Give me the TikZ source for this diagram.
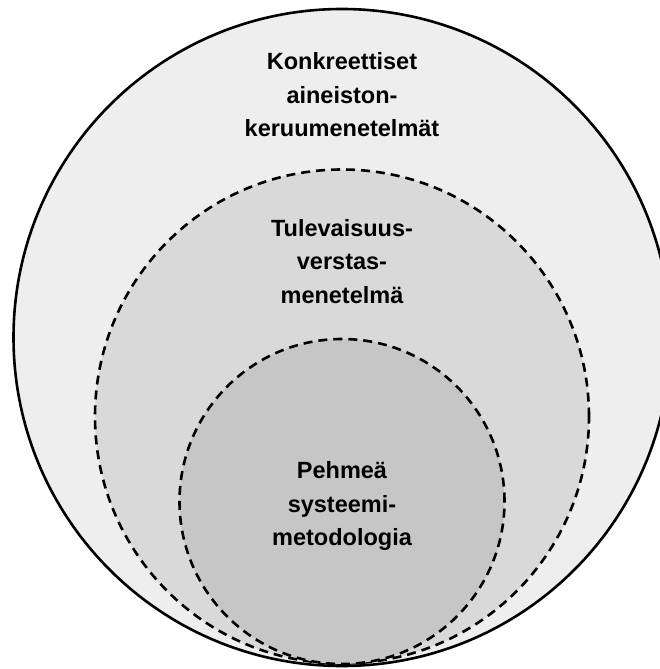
\documentclass[tikz,border=0pt]{standalone}
\usepackage{fontspec}
\setmainfont{Liberation Sans}
\definecolor{outerfill}{HTML}{EEEEEE}
\definecolor{midfill}{HTML}{D9D9D9}
\definecolor{innerfill}{HTML}{C6C6C6}
\begin{document}
\begin{tikzpicture}[x=1pt,y=1pt,
  solidring/.style={draw=black,line width=2.6pt},
  dashring/.style={draw=black,line width=2.6pt,dash pattern=on 9pt off 6pt},
  lbl/.style={font=\bfseries\fontsize{23.5}{33.5}\selectfont,align=center,text=black,inner sep=0pt}]
\useasboundingbox (0,0) rectangle (660,-669);
\clip (0,0) rectangle (660,-669);
\fill[white] (0,0) rectangle (660,-669);
\path[solidring,fill=outerfill] (342,-337.5) circle (328.5);
\path[dashring,fill=midfill] (342,-416.5) circle (247);
\path[dashring,fill=innerfill] (342,-501.5) circle (162.5);
\node[lbl] (outer) at (342,-95) {Konkreettiset\\aineiston-\\keruumenetelmät};
\node[lbl] (mid) at (342,-261.5) {Tulevaisuus-\\verstas-\\menetelmä};
\node[lbl] (inner) at (342,-506) {Pehmeä\\systeemi-\\metodologia};
\end{tikzpicture}
\end{document}
